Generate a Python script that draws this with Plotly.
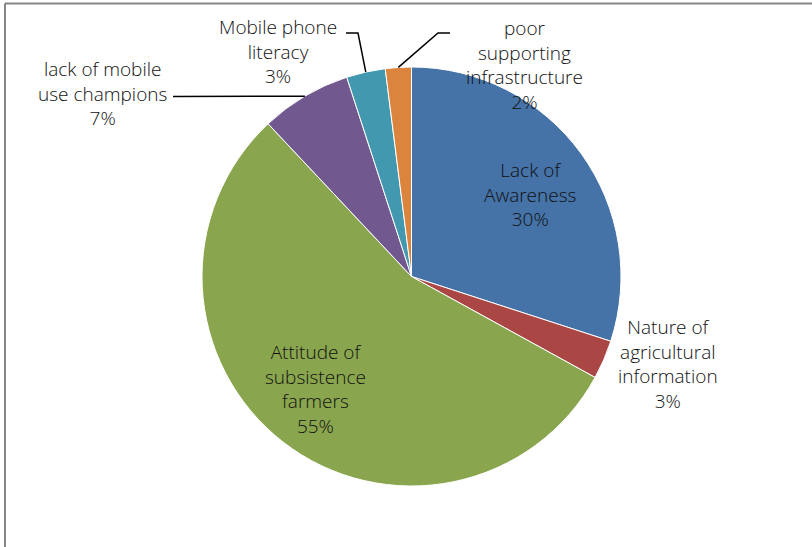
import math
import plotly.graph_objects as go

W, H = 812, 547

# Barriers to mobile-phone use for agricultural information (%)
labels = [
    "Lack of Awareness",
    "Nature of agricultural information",
    "Attitude of subsistence farmers",
    "lack of mobile use champions",
    "Mobile phone literacy",
    "poor supporting infrastructure",
]
values = [30, 3, 55, 7, 3, 2]
label_lines = [
    ["Lack of", "Awareness"],
    ["Nature of", "agricultural", "information"],
    ["Attitude of", "subsistence", "farmers"],
    ["lack of mobile", "use champions"],
    ["Mobile phone", "literacy"],
    ["poor", "supporting", "infrastructure"],
]
colors = ["#4572A7", "#AA4643", "#89A54E", "#71588F", "#4198AF", "#DB843D"]

# pie geometry in pixels
CX, CY, R = 411.5, 276.5, 209.5

# label block centre positions (pixels)
label_pos = [
    (530, 194),
    (668, 364),
    (315, 389),
    (102, 94),
    (278, 51),
    (524, 65),
]
# leader lines: slice index -> elbow points (pixels), ending on the slice edge
leaders = {
    3: [(173, 96.5)],
    4: [(346, 33), (358, 33)],
    5: [(450, 33), (438, 33)],
}

FONT = "Open Sans"
FS = 19


def px(x):
    return x / W


def py(y):
    return 1 - y / H


fig = go.Figure(
    go.Pie(
        labels=labels,
        values=values,
        sort=False,
        direction="clockwise",
        rotation=0,
        textinfo="none",
        hoverinfo="label+percent",
        marker=dict(colors=colors, line=dict(color="white", width=1)),
        domain=dict(x=[px(CX - R), px(CX + R)], y=[py(CY + R), py(CY - R)]),
        showlegend=False,
    )
)

total = sum(values)
annotations = []
shapes = []

for i, (lines, v) in enumerate(zip(label_lines, values)):
    pct = f"{round(100 * v / total)}%"
    text = "<br>".join(lines + [pct])
    x0, yc = label_pos[i]
    annotations.append(
        dict(
            x=px(x0), y=py(yc), xref="paper", yref="paper",
            text=text, showarrow=False, xanchor="center", yanchor="middle",
            align="center", borderpad=0,
            font=dict(family=FONT, size=FS, color="#111111", weight=300),
        )
    )

# leader lines to the middle of each small slice's outer edge
cum = 0
mids = []
for v in values:
    mids.append((cum + v / 2) / total * 2 * math.pi)
    cum += v
for i, pts in leaders.items():
    a = mids[i]
    end = (CX + R * math.sin(a), CY - R * math.cos(a))
    path_pts = pts + [end]
    d = "M " + " L ".join(f"{px(x)},{py(y)}" for x, y in path_pts)
    shapes.append(
        dict(type="path", path=d, xref="paper", yref="paper",
             line=dict(color="black", width=1.5))
    )

# chart-area frame (top and left edges)
shapes.append(dict(type="line", xref="paper", yref="paper",
                   x0=px(5), x1=1, y0=py(3.5), y1=py(3.5),
                   line=dict(color="#868686", width=2)))
shapes.append(dict(type="line", xref="paper", yref="paper",
                   x0=px(5), x1=px(5), y0=py(3.5), y1=0,
                   line=dict(color="#868686", width=2)))

fig.update_layout(
    width=W, height=H,
    margin=dict(l=0, r=0, t=0, b=0),
    paper_bgcolor="white",
    plot_bgcolor="white",
    annotations=annotations,
    shapes=shapes,
)

fig.write_html("out.html")
